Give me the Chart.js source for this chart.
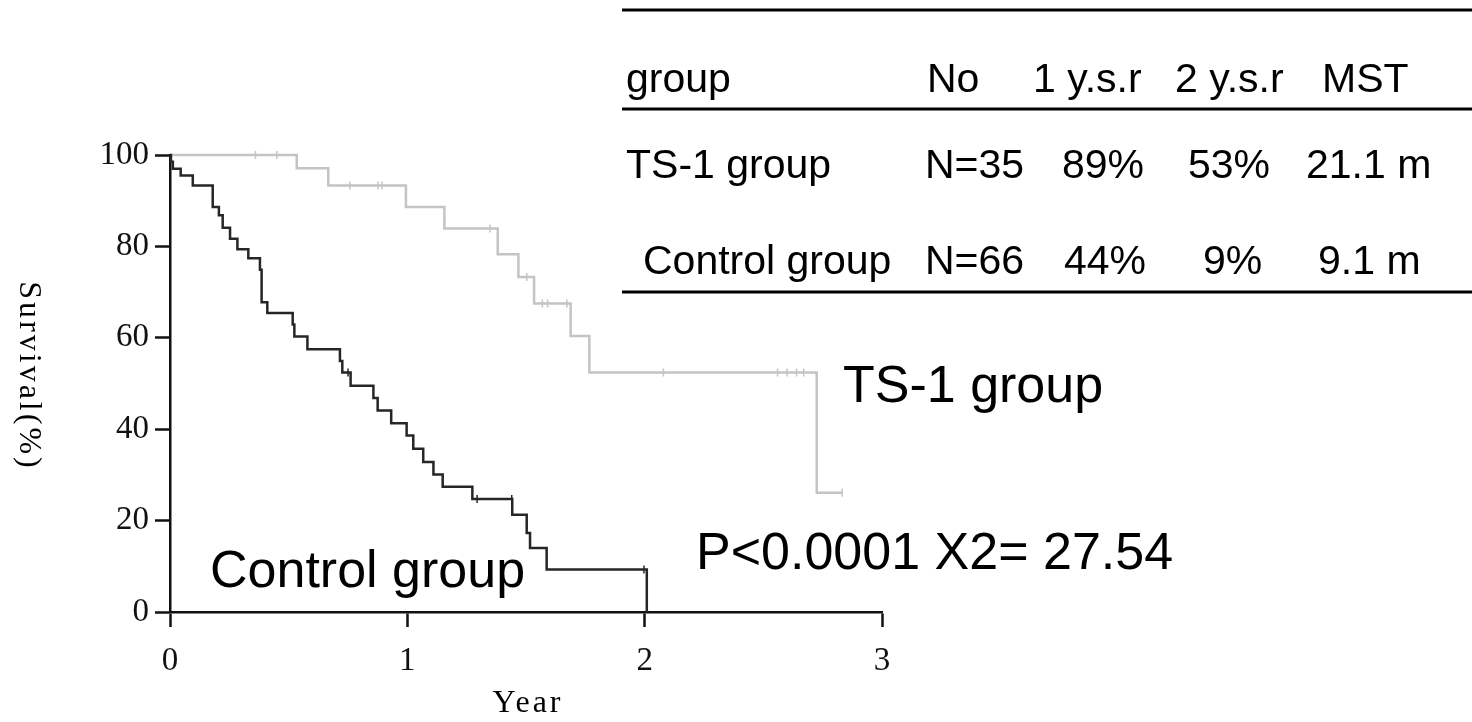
<!DOCTYPE html>
<html>
<head>
<meta charset="utf-8">
<script src="https://cdn.jsdelivr.net/npm/chart.js@4"></script>
<style>
  html, body { margin: 0; padding: 0; background: #fff; }
  #wrap { width: 1472px; height: 722px; }
</style>
</head>
<body>
<div id="wrap"><canvas id="kmChart" width="1472" height="722"></canvas></div>
<script>
// Kaplan-Meier steps: time in years, survival in %
const controlTimes = [0, 0.004, 0.012, 0.045, 0.096, 0.18, 0.206, 0.222, 0.253, 0.284, 0.33, 0.379, 0.386, 0.41, 0.517, 0.524, 0.579, 0.716, 0.726, 0.761, 0.857, 0.875, 0.932, 0.997, 1.025, 1.067, 1.11, 1.149, 1.274, 1.442, 1.503, 1.517, 1.587, 2.009];
const controlSurvival = [100, 98.5, 97.0, 95.5, 93.3, 88.6, 86.8, 84.1, 81.7, 79.4, 77.4, 74.9, 67.8, 65.4, 62.9, 60.3, 57.5, 54.9, 52.4, 49.5, 46.8, 44.1, 41.3, 38.6, 35.7, 32.8, 30.1, 27.4, 24.7, 21.3, 17.3, 14.0, 9.3, 0];
const controlCensorTimes = [0.75, 1.294, 1.44, 1.997];
const controlCensorLevels = [52.4, 24.7, 24.7, 9.3];

const ts1Times = [0, 0.534, 0.667, 0.994, 1.156, 1.381, 1.468, 1.534, 1.688, 1.767, 2.725, 2.832];
const ts1Survival = [100, 97.1, 93.3, 88.6, 83.9, 78.3, 73.3, 67.5, 60.4, 52.4, 26.1, 26.1];
const ts1CensorTimes = [0.36, 0.45, 0.758, 0.876, 0.893, 1.348, 1.503, 1.569, 1.591, 1.672, 2.079, 2.56, 2.6, 2.64, 2.67, 2.832];
const ts1CensorLevels = [100, 100, 93.3, 93.3, 93.3, 83.9, 73.3, 67.5, 67.5, 67.5, 52.4, 52.4, 52.4, 52.4, 52.4, 26.1];

const xTicks = [0, 1, 2, 3];
const yTicks = [0, 20, 40, 60, 80, 100];

const tableHeader = ['group', 'No', '1 y.s.r', '2 y.s.r', 'MST'];
const tableTs1 = ['TS-1 group', 'N=35', '89%', '53%', '21.1 m'];
const tableControl = ['Control group', 'N=66', '44%', '9%', '9.1 m'];

const statText = 'P<0.0001 X2= 27.54';

const toPoints = (xs, ys) => xs.map((x, i) => ({ x: x, y: ys[i] }));

const textPlugin = {
  id: 'textPlugin',
  afterDraw(chart) {
    const c = chart.ctx;
    c.save();
    c.fillStyle = '#000';

    // axis titles
    c.font = "32px 'Liberation Serif', serif";
    c.textAlign = 'center';
    c.textBaseline = 'middle';
    c.letterSpacing = '3px';
    c.fillText('Year', 528, 704);
    c.save();
    c.translate(28, 376);
    c.rotate(Math.PI / 2);
    c.fillText('Survival(%)', 0, 0);
    c.restore();
    c.letterSpacing = '0px';

    // table
    c.strokeStyle = '#000';
    c.lineWidth = 3;
    [10, 109, 292].forEach((y) => {
      c.beginPath();
      c.moveTo(622, y);
      c.lineTo(1472, y);
      c.stroke();
    });
    c.font = "41px 'Liberation Sans', Arial, sans-serif";
    c.textAlign = 'left';
    c.textBaseline = 'alphabetic';
    const colsHead = [626, 927, 1033, 1175, 1322];
    const colsTs1 = [626, 925, 1062, 1188, 1306];
    const colsCtl = [643, 925, 1064, 1203, 1318];
    tableHeader.forEach((t, i) => c.fillText(t, colsHead[i], 92));
    tableTs1.forEach((t, i) => c.fillText(t, colsTs1[i], 178));
    tableControl.forEach((t, i) => c.fillText(t, colsCtl[i], 274));

    // curve labels and statistics
    c.font = "52px 'Liberation Sans', Arial, sans-serif";
    c.fillText('TS-1 group', 843, 402);
    c.fillText('Control group', 210, 587);
    c.fillText(statText, 696, 569);
    c.restore();
  },
};

const axisStyle = {
  grid: {
    display: true,
    drawOnChartArea: false,
    drawTicks: true,
    tickLength: 15,
    tickWidth: 2.5,
    tickColor: '#111',
  },
  border: { display: true, color: '#111', width: 2.5 },
};

new Chart(document.getElementById('kmChart'), {
  type: 'scatter',
  data: {
    datasets: [
      {
        label: 'Control group',
        data: toPoints(controlTimes, controlSurvival),
        showLine: true,
        stepped: true,
        borderColor: '#262626',
        borderWidth: 2.5,
        pointRadius: 0,
        clip: false,
      },
      {
        label: 'Control censored',
        data: toPoints(controlCensorTimes, controlCensorLevels),
        showLine: false,
        pointStyle: 'line',
        rotation: 90,
        pointRadius: 4,
        borderWidth: 1.5,
        borderColor: '#262626',
        clip: false,
      },
      {
        label: 'TS-1 group',
        data: toPoints(ts1Times, ts1Survival),
        showLine: true,
        stepped: true,
        borderColor: '#c4c4c4',
        borderWidth: 2.5,
        pointRadius: 0,
        clip: false,
      },
      {
        label: 'TS-1 censored',
        data: toPoints(ts1CensorTimes, ts1CensorLevels),
        showLine: false,
        pointStyle: 'line',
        rotation: 90,
        pointRadius: 4,
        borderWidth: 1.5,
        borderColor: '#c4c4c4',
        clip: false,
      },
    ],
  },
  options: {
    responsive: false,
    animation: false,
    devicePixelRatio: 1,
    layout: { padding: { left: 0, top: 155, right: 590, bottom: 0 } },
    scales: {
      x: {
        type: 'linear',
        min: 0,
        max: 3,
        afterFit: (scale) => { scale.height = 110; },
        afterBuildTicks: (scale) => { scale.ticks = xTicks.map((v) => ({ value: v })); },
        ticks: {
          color: '#111',
          padding: 15,
          font: { family: "'Liberation Serif', serif", size: 33 },
        },
        ...axisStyle,
      },
      y: {
        min: 0,
        max: 100,
        afterFit: (scale) => { scale.width = 170; },
        afterBuildTicks: (scale) => { scale.ticks = yTicks.map((v) => ({ value: v })); },
        ticks: {
          color: '#111',
          padding: 6,
          font: { family: "'Liberation Serif', serif", size: 33 },
        },
        ...axisStyle,
      },
    },
    plugins: {
      legend: { display: false },
      tooltip: { enabled: false },
    },
  },
  plugins: [textPlugin],
});
</script>
</body>
</html>
